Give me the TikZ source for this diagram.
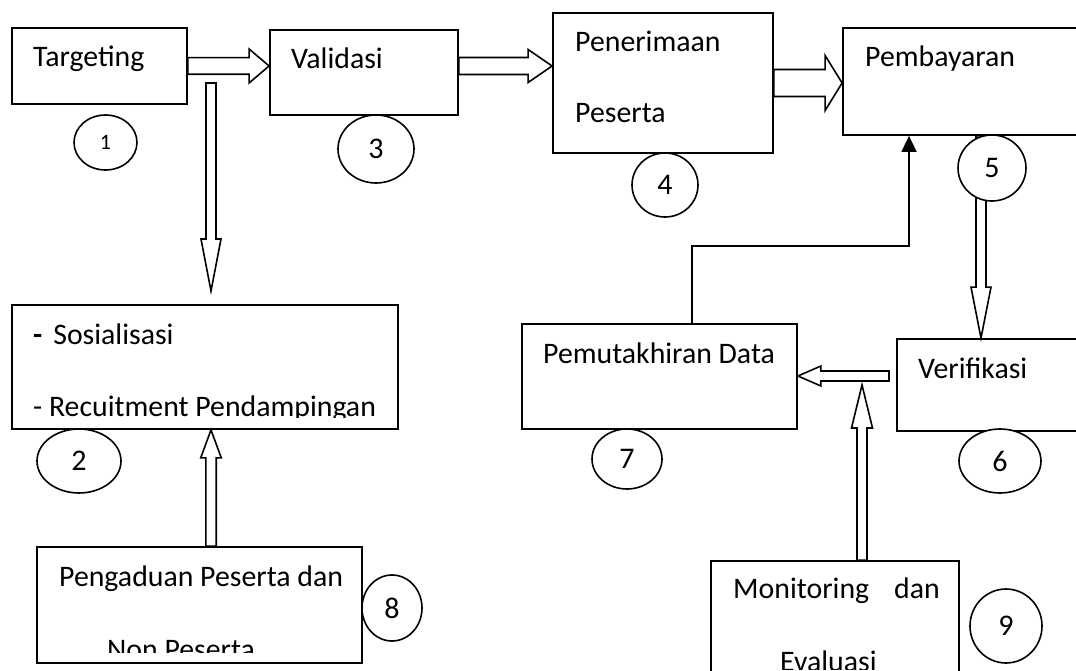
\documentclass[tikz,border=0pt]{standalone}
\usepackage{fontspec}
\setmainfont{Carlito}
\usetikzlibrary{calc,arrows.meta,shapes.geometric}
\newcommand\blockarrow[5]{%
  \coordinate (ba) at (#1);
  \coordinate (bb) at (#2);
  \coordinate (bh) at ($(bb)!#5!(ba)$);
  \draw[blk] ($(ba)!#3!90:(bb)$) -- ($(bh)!#3!90:(bb)$) -- ($(bh)!#4!90:(bb)$) -- (bb)
    -- ($(bh)!#4!-90:(bb)$) -- ($(bh)!#3!-90:(bb)$) -- ($(ba)!#3!-90:(bb)$) -- cycle;}
\tikzset{
  box/.style={draw, line width=1.8pt, rectangle, inner sep=0pt, fill=white},
  num/.style={draw, line width=1.6pt, ellipse, inner sep=0pt, fill=white, font=\fontsize{30}{34}\selectfont},
  lbl/.style={anchor=base west, inner sep=0pt, font=\fontsize{29.8}{34}\selectfont},
  blk/.style={draw, line width=1.6pt, fill=white, line join=miter},
  conn/.style={draw, line width=1.8pt}
}
\begin{document}
\begin{tikzpicture}[x=1pt,y=-1pt]
\useasboundingbox (0,0) rectangle (1076,671);
\clip (0,0) rectangle (1076,671);
% boxes
\node[box, minimum width=175pt, minimum height=76pt] (targ) at (99.5,66) {};
\node[box, minimum width=188pt, minimum height=85pt] (val) at (364,72.5) {};
\node[box, minimum width=220pt, minimum height=140pt] (pen) at (663,83) {};
\node[box, minimum width=247pt, minimum height=107pt] (pem) at (966.5,81.5) {};
\node[box, minimum width=386pt, minimum height=124pt] (sos) at (205,367) {};
\node[box, minimum width=325pt, minimum height=116pt] (peng) at (199.5,605) {};
\node[box, minimum width=275pt, minimum height=105pt] (pmt) at (659.5,376.5) {};
\node[box, minimum width=193pt, minimum height=92pt] (ver) at (993.5,385) {};
\node[box, minimum width=248pt, minimum height=129pt] (mon) at (835,625.5) {};
% texts
\node[lbl] (t1) at (33,67) {Targeting};
\node[lbl] (t3) at (291,69) {Validasi};
\node[lbl] (t4a) at (575,52) {Penerimaan};
\node[lbl] (t4b) at (575,123) {Peserta};
\node[lbl] (t5) at (865,67) {Pembayaran};
\node[lbl] (t2a) at (33,344) {\textbf{-}\hspace{11pt}Sosialisasi};
\begin{scope}
\clip (12,305) rectangle (398,417);
\node[lbl] (t2b) at (33,416) {- Recuitment Pendampingan};
\end{scope}
\node[lbl] (t8a) at (59,586) {Pengaduan Peserta dan};
\begin{scope}
\clip (37,547) rectangle (362,652);
\node[lbl] (t8b) at (107,659) {Non Peserta};
\end{scope}
\node[lbl] (t7) at (543,363) {Pemutakhiran Data};
\node[lbl] (t6) at (918,378) {Verifikasi};
\node[lbl] (t9a) at (733,598) {Monitoring};
\node[lbl] (t9b) at (894,598) {dan};
\begin{scope}
\clip (711,561) rectangle (959,669);
\node[lbl] (t9c) at (780,671) {Evaluasi};
\end{scope}
% helper coordinates
\coordinate (colL) at (211,0);
\coordinate (colR) at (981,0);
\coordinate (colM) at (862,0);
\coordinate (a4s) at (211,83);
\coordinate (a4e) at (211,291);
\coordinate (a7s) at (889,376);
\coordinate (a8e) at (862,385);
\coordinate (fb1) at (692,324);
\coordinate (fb2) at (909,246);
% block arrows
\blockarrow{targ.east}{targ.east -| val.west}{8.3pt}{17pt}{20pt}
\blockarrow{val.east |- targ.east}{pen.west |- targ.east}{8.5pt}{16.5pt}{24pt}
\blockarrow{pen.east}{pen.east -| pem.west}{13.5pt}{27.5pt}{17pt}
\blockarrow{a4s}{a4e}{5pt}{10pt}{52pt}
\blockarrow{peng.north -| colL}{sos.south -| colL}{5.2pt}{10.3pt}{28pt}
\blockarrow{pem.south -| colR}{ver.north -| colR}{5pt}{10pt}{51pt}
\blockarrow{a7s}{pmt.east |- a7s}{5pt}{10pt}{23pt}
\blockarrow{mon.north -| colM}{a8e}{5pt}{10.5pt}{43pt}
% feedback connector
\draw[conn, -{Triangle[length=16pt,width=15pt]}] (fb1) |- (fb2) -- (fb2 |- pem.south);
% numbered ellipses
\node[num, minimum width=63pt, minimum height=55pt, font=\fontsize{22}{26}\selectfont] (c1) at (105.5,142.5) {1};
\node[num, minimum width=84pt, minimum height=64pt] (c2) at (79,461) {2};
\node[num, minimum width=76pt, minimum height=68pt] (c3) at (376,149) {3};
\node[num, minimum width=66pt, minimum height=64pt] (c4) at (665,185) {4};
\node[num, minimum width=68pt, minimum height=66pt] (c5) at (992,168) {5};
\node[num, minimum width=82pt, minimum height=64pt] (c6) at (1000,461) {6};
\node[num, minimum width=70pt, minimum height=60pt] (c7) at (627,459) {7};
\node[num, minimum width=60pt, minimum height=66pt] (c8) at (392,608) {8};
\node[num, minimum width=72pt, minimum height=74pt] (c9) at (1006,626) {9};
\end{tikzpicture}
\end{document}
